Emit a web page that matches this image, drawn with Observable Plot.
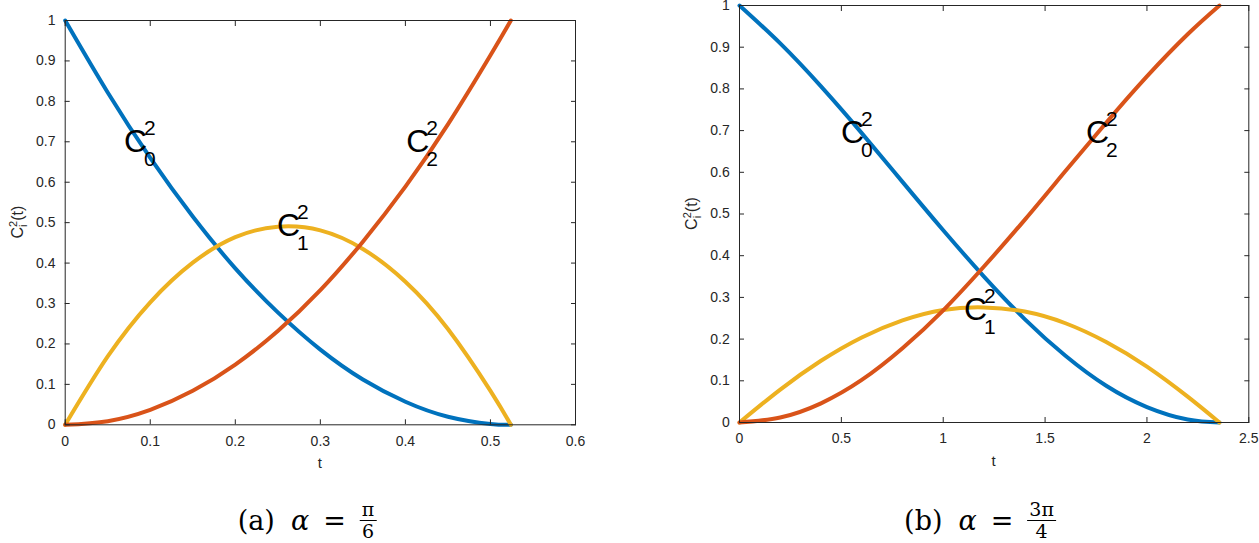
<!DOCTYPE html>
<html><head><meta charset="utf-8">
<script src="https://cdn.jsdelivr.net/npm/d3@7"></script>
<script src="https://cdn.jsdelivr.net/npm/@observablehq/plot@0.6"></script>
<style>
body{margin:0;background:#fff;}
#wrap{position:relative;width:1259px;height:543px;overflow:hidden;background:#fff;}
.panel{position:absolute;top:0;}
.panel svg{display:block;}
.cap{position:absolute;top:501px;font-family:"DejaVu Serif","Liberation Serif",serif;font-size:27px;white-space:nowrap;transform:translateX(-50%);color:#000;line-height:40px;height:40px;}
.cap .sp{display:inline-block;width:16px;}
.cap .eq{display:inline-block;margin:0 14px;}
.frac{display:inline-block;vertical-align:middle;text-align:center;font-size:19px;line-height:1;position:relative;top:-2px;}
.frac .num{display:block;border-bottom:1px solid #000;padding:0 2px 1px;}
.frac .den{display:block;padding-top:1px;}
</style></head><body>
<div id="wrap">
  <div id="pa" class="panel" style="left:0px"></div>
  <div id="pb" class="panel" style="left:660px"></div>
  <div class="cap" style="left:307px">(a)<span class="sp"></span><i>α</i><span class="eq">=</span><span class="frac"><span class="num">π</span><span class="den">6</span></span></div>
  <div class="cap" style="left:980px">(b)<span class="sp"></span><i>α</i><span class="eq">=</span><span class="frac"><span class="num">3π</span><span class="den">4</span></span></div>
</div>
<script>
// ---- data ----
const seriesNames = ["C0", "C1", "C2"];
const seriesSubs = ["0", "1", "2"];
const seriesColors = ["#0072BD", "#EDB120", "#D95319"];

// panel (a): alpha = pi/6
const tA  = [0, 0.05, 0.1, 0.15, 0.2, 0.25, 0.3, 0.35, 0.4, 0.45, 0.5, 0.524];
const c0A = [1, 0.822, 0.66, 0.515, 0.387, 0.278, 0.186, 0.112, 0.057, 0.02, 0.002, 0];
const c1A = [0, 0.169, 0.303, 0.401, 0.464, 0.49, 0.481, 0.435, 0.354, 0.237, 0.084, 0];
const c2A = [0, 0.009, 0.037, 0.084, 0.149, 0.232, 0.333, 0.453, 0.589, 0.743, 0.914, 1];

// panel (b): alpha = 3pi/4
const tB  = [0, 0.2, 0.4, 0.6, 0.8, 1.0, 1.2, 1.4, 1.6, 1.8, 2.0, 2.2, 2.356];
const c0B = [1, 0.909, 0.806, 0.694, 0.577, 0.461, 0.35, 0.248, 0.16, 0.088, 0.037, 0.007, 0];
const c1B = [0, 0.079, 0.148, 0.204, 0.245, 0.27, 0.276, 0.266, 0.238, 0.193, 0.134, 0.062, 0];
const c2B = [0, 0.012, 0.046, 0.102, 0.178, 0.269, 0.374, 0.486, 0.603, 0.719, 0.83, 0.931, 1];

// ticks
const xTicksA = [0, 0.1, 0.2, 0.3, 0.4, 0.5, 0.6];
const xTicksB = [0, 0.5, 1, 1.5, 2, 2.5];
const yTicks = [0, 0.1, 0.2, 0.3, 0.4, 0.5, 0.6, 0.7, 0.8, 0.9, 1];

// curve label anchor points (data units)
const labelTA = [0.069, 0.249, 0.401];
const labelVA = [0.674, 0.468, 0.674];
const labelTB = [0.498, 1.102, 1.701];
const labelVB = [0.671, 0.245, 0.671];

const ink = "#262626";
const tf = d => String(+(+d).toFixed(2));

function toLong(t, cols) {
  return cols.flatMap((c, k) => c.map((v, i) => ({t: t[i], v, s: seriesNames[k]})));
}

function panel(o) {
  const data = toLong(o.t, o.cols);
  const labels = seriesNames.map((s, i) => ({t: o.labT[i], v: o.labV[i], sub: seriesSubs[i]}));
  const plot = Plot.plot({
    width: o.width, height: 480,
    marginLeft: o.ml, marginRight: o.mr, marginTop: o.mt, marginBottom: o.mb,
    style: {fontFamily: "'Liberation Sans', Arial, sans-serif", fontSize: "14px", color: ink, background: "transparent"},
    x: {domain: o.xDomain, axis: null},
    y: {domain: [0, 1], axis: null},
    color: {domain: seriesNames, range: seriesColors},
    marks: [
      Plot.line(data, {x: "t", y: "v", stroke: "s", z: "s", strokeWidth: 4, curve: "natural"}),
      Plot.frame({stroke: ink, strokeWidth: 1}),
      Plot.axisX({anchor: "bottom", ticks: o.xTicks, tickSize: -5, tickPadding: 16, tickFormat: tf, label: null, color: ink, fontSize: 14}),
      Plot.axisX({anchor: "top", ticks: o.xTicks, tickSize: -5, tickFormat: () => "", label: null, color: ink}),
      Plot.axisY({anchor: "left", ticks: yTicks, tickSize: -5, tickPadding: 14.7, tickFormat: tf, label: null, color: ink, fontSize: 14}),
      Plot.axisY({anchor: "right", ticks: yTicks, tickSize: -5, tickFormat: () => "", label: null, color: ink}),
      Plot.text(labels, {x: "t", y: "v", text: () => "C", fontSize: 32, textAnchor: "start", lineAnchor: "bottom", fill: "#000"}),
      Plot.text(labels, {x: "t", y: "v", text: () => "2", fontSize: 21, dx: 20, dy: -17, textAnchor: "start", lineAnchor: "bottom", fill: "#000"}),
      Plot.text(labels, {x: "t", y: "v", text: "sub", fontSize: 21, dx: 20, dy: 14, textAnchor: "start", lineAnchor: "bottom", fill: "#000"})
    ]
  });
  const svg = d3.select(plot);
  const cx = (o.ml + o.width - o.mr) / 2;
  const cy = (o.mt + 480 - o.mb) / 2;
  svg.append("text").attr("x", cx).attr("y", 480 - o.mb + o.xlabOff)
    .attr("text-anchor", "middle").attr("font-size", 15).attr("fill", ink)
    .attr("font-family", "'Liberation Sans', Arial, sans-serif").text("t");
  const yl = svg.append("text").attr("transform", `translate(${o.ylabX},${cy}) rotate(-90)`)
    .attr("text-anchor", "middle").attr("font-size", 16).attr("fill", ink)
    .attr("font-family", "'Liberation Sans', Arial, sans-serif");
  yl.append("tspan").text("C");
  yl.append("tspan").attr("font-size", 11).attr("dy", -6.5).text("2");
  yl.append("tspan").attr("font-size", 11).attr("dx", -6.1).attr("dy", 10).text("i");
  yl.append("tspan").attr("dx", 3.7).attr("dy", -3.5).text("(t)");
  document.getElementById(o.id).appendChild(plot);
}

panel({id: "pa", t: tA, cols: [c0A, c1A, c2A], xDomain: [0, 0.6], xTicks: xTicksA,
  labT: labelTA, labV: labelVA, width: 600, ml: 64.7, mr: 25, mt: 20, mb: 55.7, xlabOff: 44, ylabX: 23});
panel({id: "pb", t: tB, cols: [c0B, c1B, c2B], xDomain: [0, 2.5], xTicks: xTicksB,
  labT: labelTB, labV: labelVB, width: 599, ml: 79, mr: 10.7, mt: 5, mb: 58, xlabOff: 44, ylabX: 37});
</script>
</body></html>
